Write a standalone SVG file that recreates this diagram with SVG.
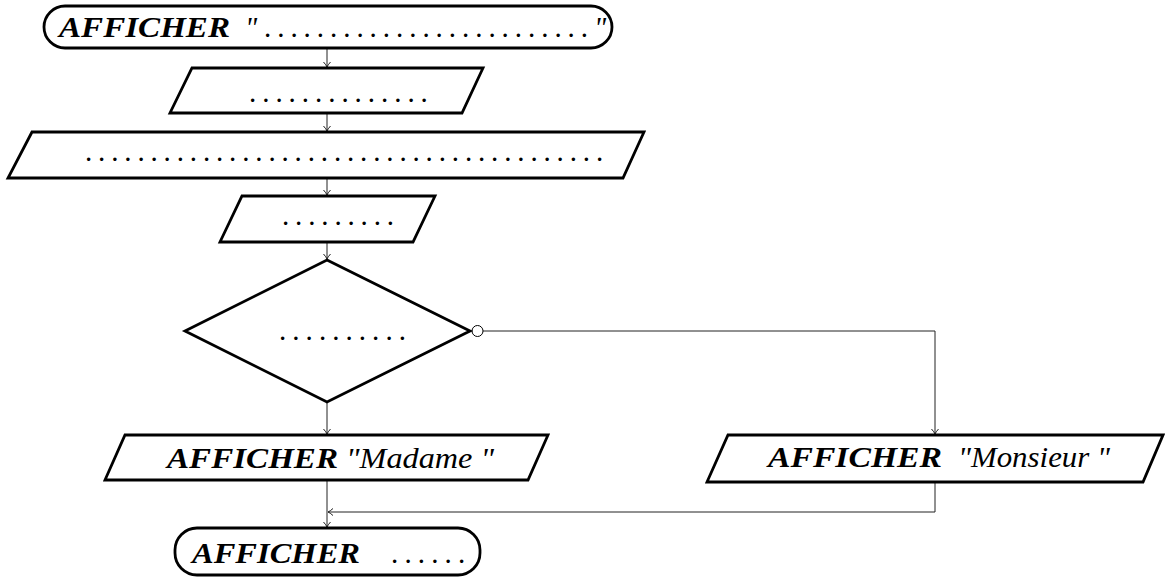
<svg xmlns="http://www.w3.org/2000/svg" width="1165" height="579" viewBox="0 0 1165 579">
<style>
.shape{fill:#fff;stroke:#000;stroke-width:2.8;stroke-linejoin:miter}
.conn{fill:none;stroke:#222;stroke-width:1}
.kw{font-family:'Liberation Serif','Times New Roman',serif;font-weight:bold;font-style:italic;font-size:29px;fill:#000}
.it{font-family:'Liberation Serif','Times New Roman',serif;font-style:italic;font-size:29px;fill:#000}
.dots{font-family:'Liberation Serif','Times New Roman',serif;font-size:29px;fill:#000}
</style>
<defs>
<marker id="arr" viewBox="-6 -5 7 10" markerWidth="7" markerHeight="10" refX="0" refY="0" orient="auto" markerUnits="userSpaceOnUse">
<path d="M-5,-3.5 Q-2,-0.8 0,0 Q-2,0.8 -5,3.5" fill="none" stroke="#222" stroke-width="1"/>
</marker>
</defs>
<rect width="1165" height="579" fill="#fff"/>
<g id="connectors">
<line class="conn" x1="327" y1="49" x2="327" y2="67" marker-end="url(#arr)"/>
<line class="conn" x1="327" y1="114" x2="327" y2="131" marker-end="url(#arr)"/>
<line class="conn" x1="327" y1="179" x2="327" y2="195" marker-end="url(#arr)"/>
<line class="conn" x1="327" y1="243" x2="327" y2="259" marker-end="url(#arr)"/>
<line class="conn" x1="327" y1="403" x2="327" y2="434" marker-end="url(#arr)"/>
<path class="conn" d="M483,331 H935 V434" marker-end="url(#arr)"/>
<line class="conn" x1="327" y1="481" x2="327" y2="527" marker-end="url(#arr)"/>
<path class="conn" d="M935,483 V512 H328" marker-end="url(#arr)"/>
<circle cx="477.5" cy="331" r="5.5" fill="#fff" stroke="#000" stroke-width="1"/>
</g>
<g id="start">
<rect class="shape" x="44" y="6" width="568" height="42" rx="21" ry="21"/>
<text class="kw" x="59" y="37" textLength="171" lengthAdjust="spacingAndGlyphs">AFFICHER</text>
<text class="it" x="245" y="37">"</text>
<text class="dots" x="264" y="37" letter-spacing="5.95">.........................</text>
<text class="it" x="594" y="37">"</text>
</g>
<g id="io1">
<polygon class="shape" points="192,68 483,68 462,113 170,113"/>
<text class="dots" x="249" y="102" letter-spacing="5.95">..............</text>
</g>
<g id="io2">
<polygon class="shape" points="32,132 644,132 623,178 8,178"/>
<text class="dots" x="85" y="161" letter-spacing="5.85">........................................</text>
</g>
<g id="io3">
<polygon class="shape" points="242,196 435,196 413,242 220,242"/>
<text class="dots" x="282" y="225" letter-spacing="5.85">.........</text>
</g>
<g id="decision">
<polygon class="shape" points="327,260 470,331 327,402 185,331"/>
<text class="dots" x="279" y="340" letter-spacing="6.05">..........</text>
</g>
<g id="madame">
<polygon class="shape" points="125,435 548,435 528,480 105,480"/>
<text class="kw" x="167" y="468" textLength="171" lengthAdjust="spacingAndGlyphs">AFFICHER</text>
<text class="it" x="346" y="468" textLength="148" lengthAdjust="spacingAndGlyphs">"Madame "</text>
</g>
<g id="monsieur">
<polygon class="shape" points="728,435 1163,435 1143,482 707,482"/>
<text class="kw" x="768" y="467" textLength="174" lengthAdjust="spacingAndGlyphs">AFFICHER</text>
<text class="it" x="958" y="467" textLength="152" lengthAdjust="spacingAndGlyphs">"Monsieur "</text>
</g>
<g id="end">
<rect class="shape" x="175" y="528" width="305" height="47" rx="22" ry="22"/>
<text class="kw" x="192" y="563" textLength="168" lengthAdjust="spacingAndGlyphs">AFFICHER</text>
<text class="dots" x="391" y="563" letter-spacing="6.15">......</text>
</g>
</svg>
